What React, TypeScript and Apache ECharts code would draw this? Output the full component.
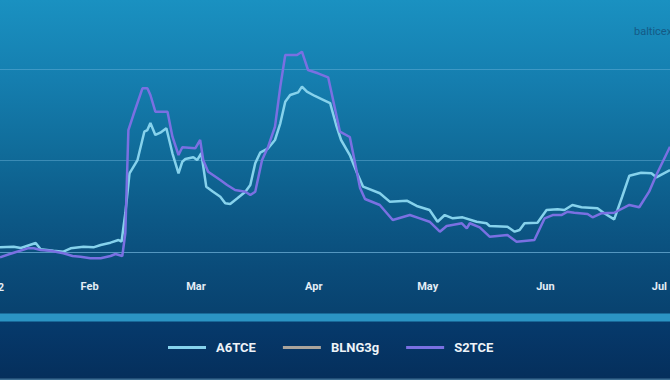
import React, { useEffect, useRef } from "react";
import * as echarts from "echarts";

// x = day of year 2022 (Jan 1 = 0), y = index value
const a6tce: [number, number][] = [
  [7.4, 5.1], [11.0, 5.8], [12.9, 4.4], [16.8, 9.8], [18.1, 3.0], [21.5, 1.4], [24.1, 0.3],
  [26.0, 4.0], [29.4, 5.8], [32.0, 5.1], [33.9, 7.7], [36.5, 10.2], [38.6, 13.1], [39.4, 11.3],
  [40.4, 42.6], [41.5, 86.0], [43.6, 100.5], [45.4, 131.5], [46.2, 133.3], [47.0, 141.0],
  [48.3, 127.9], [49.6, 130.4], [51.2, 135.2], [52.8, 107.9], [54.4, 86.0], [55.4, 98.7],
  [56.2, 101.6], [58.3, 103.5], [59.3, 100.5], [60.4, 107.9], [61.7, 71.4], [63.5, 65.9],
  [65.4, 60.4], [66.7, 53.2], [68.0, 52.5], [69.9, 58.7], [72.0, 65.9], [73.3, 73.2],
  [74.6, 96.9], [75.9, 108.5], [78.0, 113.3], [79.8, 122.4], [81.2, 140.7], [82.5, 164.3],
  [83.8, 171.6], [85.9, 174.5], [86.9, 180.7], [88.2, 175.2], [90.3, 170.5], [92.2, 166.9],
  [94.3, 162.8], [95.9, 138.8], [97.2, 122.4], [99.5, 106.0], [101.4, 86.3], [103.0, 71.4],
  [107.4, 64.2], [110.0, 55.0], [114.5, 56.1], [117.1, 50.3], [120.5, 45.9], [122.6, 33.1],
  [124.5, 40.4], [126.6, 36.8], [129.2, 37.9], [132.9, 33.1], [135.5, 31.4], [136.3, 28.4],
  [141.0, 27.7], [142.9, 22.2], [144.2, 24.0], [145.5, 31.4], [148.9, 32.0], [151.3, 45.9],
  [154.2, 46.7], [156.0, 45.9], [158.1, 51.4], [160.5, 48.9], [164.7, 47.8], [166.5, 42.3],
  [169.1, 35.7], [171.2, 60.4], [173.1, 83.4], [176.2, 86.7], [178.9, 86.0], [180.2, 81.6],
  [183.8, 89.6],
];

const s2tce: [number, number][] = [
  [7.4, -5.8], [11.0, -0.8], [14.7, 4.0], [16.3, 4.0], [18.1, 2.2], [20.7, 1.4], [24.1, -1.4],
  [26.5, -4.4], [28.6, -5.1], [31.2, -6.9], [33.9, -6.9], [36.5, -4.4], [37.8, -2.2], [39.6, -4.4],
  [40.4, 20.8], [41.2, 133.3], [42.5, 149.7], [44.9, 178.9], [46.2, 178.9], [47.0, 171.6],
  [48.3, 153.3], [51.5, 153.3], [52.8, 126.0], [54.4, 106.0], [55.4, 114.4], [58.8, 113.3],
  [60.1, 122.4], [60.9, 100.5], [62.2, 87.8], [65.4, 78.7], [67.2, 73.2], [69.3, 67.8],
  [72.0, 65.9], [73.3, 62.3], [74.6, 65.9], [76.4, 100.5], [78.0, 115.1], [79.8, 136.9],
  [81.2, 180.7], [82.5, 215.3], [85.6, 215.3], [86.9, 218.9], [88.5, 198.9], [91.1, 195.3],
  [93.8, 190.9], [95.1, 166.1], [96.9, 131.5], [99.5, 125.7], [102.2, 69.9], [103.5, 57.9],
  [107.4, 51.4], [110.8, 35.0], [115.3, 40.4], [117.9, 36.8], [120.5, 33.1], [123.2, 22.2],
  [125.0, 28.4], [129.0, 31.4], [130.3, 25.9], [131.1, 31.4], [133.7, 27.0], [136.3, 16.7],
  [141.0, 18.6], [143.4, 11.3], [148.1, 13.1], [150.8, 36.8], [152.9, 40.4], [155.2, 40.4],
  [156.8, 44.0], [158.6, 42.9], [162.1, 41.5], [163.4, 37.9], [165.7, 42.3], [169.1, 42.9],
  [173.1, 51.4], [175.7, 48.9], [178.3, 65.9], [180.2, 84.2], [183.8, 115.1],
];

const blng3g: [number, number][] = [];

const monthTickDays = [31, 59, 90, 120, 151, 181];
const monthTickLabels = ["Feb", "Mar", "Apr", "May", "Jun", "Jul"];
const seriesNames = ["A6TCE", "BLNG3g", "S2TCE"];
const seriesColors = ["#86d2ec", "#aaa49c", "#7a70e2"];

export default function App() {
  const ref = useRef<HTMLDivElement>(null);
  useEffect(() => {
    document.body.style.margin = "0";
    const chart = echarts.init(ref.current!, undefined, { renderer: "svg" });
    const datasets = [a6tce, blng3g, s2tce];
    chart.setOption({
      animation: false,
      backgroundColor: "transparent",
      textStyle: { fontFamily: "Roboto" },
      grid: { left: 0, right: 0, top: 0, bottom: 128, containLabel: false },
      xAxis: {
        type: "value",
        min: 7.4,
        max: 183.8,
        offset: 18,
        splitLine: { show: false },
        axisTick: { show: false },
        axisLine: { show: true, lineStyle: { color: "rgba(120,185,225,0.45)", width: 1 } },
        axisLabel: {
          customValues: monthTickDays,
          formatter: (v: number) => {
            const i = monthTickDays.indexOf(Math.round(v));
            return i >= 0 ? monthTickLabels[i] : "";
          },
          color: "#e4edf5",
          fontSize: 11,
          fontWeight: "bold",
          margin: 11,
          showMinLabel: true,
          showMaxLabel: true,
        },
      },
      yAxis: {
        type: "value",
        min: 0,
        max: 275.4,
        interval: 100,
        axisLabel: { show: false },
        axisLine: { show: false },
        axisTick: { show: false },
        splitLine: {
          show: true,
          showMaxLine: false,
          lineStyle: { color: "rgba(120,185,225,0.42)", width: 1 },
        },
      },
      legend: {
        data: seriesNames,
        left: 168,
        top: 341,
        padding: 0,
        icon: "rect",
        itemWidth: 38,
        itemHeight: 3,
        itemGap: 27,
        textStyle: {
          color: "#eef3f8",
          fontSize: 13,
          fontWeight: "bold",
          fontFamily: "Roboto",
          padding: [0, 0, 0, 5],
        },
      },
      graphic: [
        {
          type: "text",
          left: 634,
          top: 26,
          style: { text: "balticexchange.com", fill: "#155a86", fontSize: 11, fontFamily: "Roboto" },
        },
        {
          type: "text",
          x: 4,
          y: 287,
          style: {
            text: "2022",
            fill: "#e4edf5",
            fontSize: 11,
            fontWeight: "bold",
            fontFamily: "Roboto",
            textAlign: "right",
            textVerticalAlign: "middle",
          },
        },
      ],
      series: seriesNames.map((name, i) => ({
        name,
        type: "line",
        data: datasets[i],
        showSymbol: false,
        symbol: "none",
        clip: false,
        color: seriesColors[i],
        lineStyle: { width: 2.5, color: seriesColors[i] },
      })),
    });
    return () => chart.dispose();
  }, []);
  return (
    <div
      ref={ref}
      style={{
        position: "fixed",
        left: 0,
        top: 0,
        width: 670,
        height: 380,
        background:
          "linear-gradient(to bottom, #1a91c1 0px, #157eaf 80px, #106c9a 150px, #0c5886 220px, #0a4b79 270px, #08426f 313px, #2b94c4 314px, #2b94c4 321px, #063a6c 322px, #052f5c 378px, #3d6d92 379px, #3d6d92 380px)",
      }}
    />
  );
}
